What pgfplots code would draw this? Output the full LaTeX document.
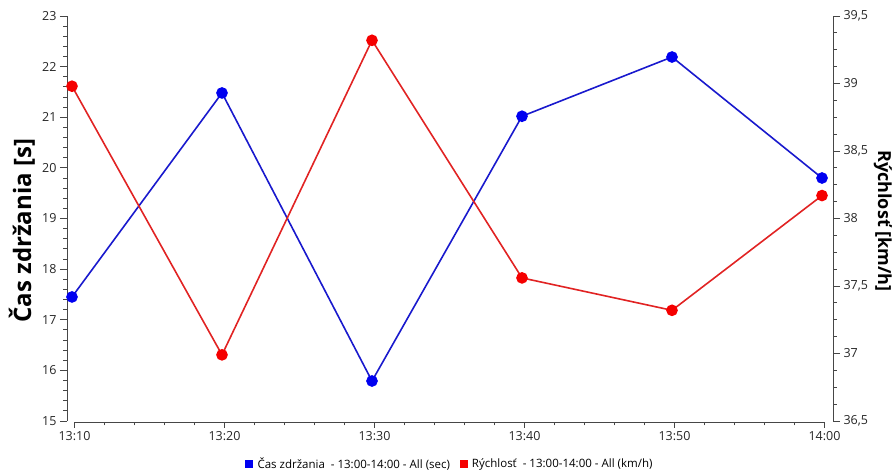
\documentclass[border=0pt]{standalone}
\usepackage{pgfplots}
\pgfplotsset{compat=1.18}
\usepackage{fontspec}
\setmainfont{Open Sans}
\definecolor{lineblue}{RGB}{25,25,205}
\definecolor{markblue}{RGB}{0,0,240}
\definecolor{linered}{RGB}{225,35,35}
\definecolor{markred}{RGB}{245,0,0}
\definecolor{axgray}{RGB}{70,70,70}
\pgfplotsset{
 base/.style={scale only axis, width=766pt, height=405pt, xmin=9.667, xmax=60.733,
   axis x line=none, tick align=outside, major tick length=7pt, minor tick length=3.5pt,
   axis line style={axgray, line width=0.8pt}, tick style={axgray, line width=0.8pt},
   tick label style={font=\fontsize{12.5}{14}\selectfont, text=black!85},
   /pgf/number format/assume math mode=true, clip=false},
}
\begin{document}
\begin{tikzpicture}[x=1pt,y=1pt]
\useasboundingbox (-67,-54) rectangle (828,421);
\begin{axis}[base, at={(0,0)}, anchor=south west, axis y line*=left,
  ymin=15, ymax=23, ytick={15,16,17,18,19,20,21,22,23}, minor y tick num=4,
  ylabel={Čas zdržania [s]},
  ylabel style={at={(axis description cs:-0.059,0.47)}, anchor=center, font=\fontsize{24}{28}\selectfont\bfseries}]
\addplot[lineblue, line width=1.6pt, mark=*, mark size=5pt, mark options={draw=markblue, fill=markblue}]
 coordinates {(10,17.45) (20,21.48) (30,15.79) (40,21.02) (50,22.19) (60,19.8)};
\end{axis}
\begin{axis}[base, at={(0,0)}, anchor=south west, axis y line*=right,
  ymin=36.5, ymax=39.5, ytick={36.5,37,37.5,38,38.5,39,39.5}, minor y tick num=3,
  /pgf/number format/use comma,
  ylabel={Rýchlosť [km/h]},
  ylabel style={at={(axis description cs:1.065,0.494)}, anchor=center, rotate=180, font=\fontsize{18}{22}\selectfont\bfseries},
  legend style={at={(0.5,-0.106)}, anchor=center, legend columns=2, draw=none, fill=none,
    font=\fontsize{11.5}{13}\selectfont, /tikz/every even column/.append style={column sep=8pt}}]
\addlegendimage{only marks, mark=square*, mark size=3.5pt, mark options={draw=markblue, fill=markblue}}
\addlegendentry{\hspace{3pt}Čas zdržania\ \ - 13:00-14:00 - All (sec)}
\addlegendimage{only marks, mark=square*, mark size=3.5pt, mark options={draw=markred, fill=markred}}
\addlegendentry{\hspace{3pt}Rýchlosť\ \ - 13:00-14:00 - All (km/h)}
\addplot[linered, line width=1.6pt, mark=*, mark size=5pt, mark options={draw=markred, fill=markred}]
 coordinates {(10,38.98) (20,36.99) (30,39.32) (40,37.56) (50,37.32) (60,38.17)};
\end{axis}
\begin{axis}[scale only axis, width=750pt, height=10pt, at={(5,-9)}, anchor=south west,
  xmin=10, xmax=60, ymin=0, ymax=1, axis y line=none, axis x line*=bottom,
  xtick={10,20,30,40,50,60}, xticklabels={13:10,13:20,13:30,13:40,13:50,14:00},
  minor x tick num=4, tick align=outside, major tick length=6pt, minor tick length=3.5pt,
  axis line style={axgray, line width=0.8pt, -}, tick style={axgray, line width=0.8pt},
  tick label style={font=\fontsize{12.5}{14}\selectfont, text=black!85}]
\end{axis}
\end{tikzpicture}
\end{document}
